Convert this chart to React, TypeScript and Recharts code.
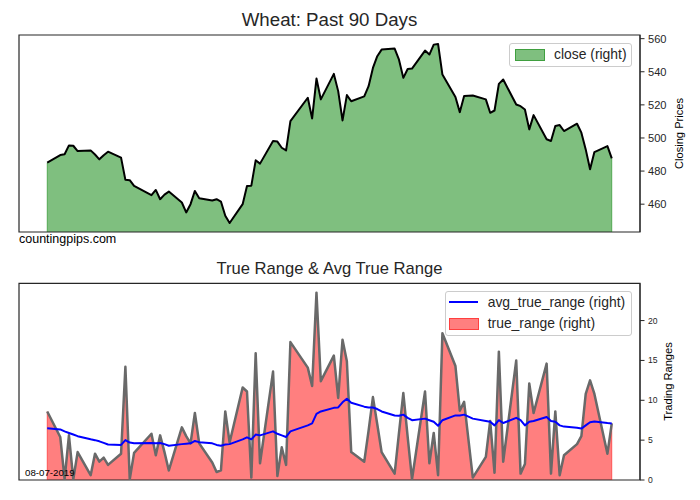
import React from "react";
import { Area, ComposedChart, Legend, Line, ReferenceArea, ReferenceLine, XAxis, YAxis } from "recharts";

const YEAR = 2019;
const DATES = [
  "03-29",
  "04-01", "04-02", "04-03", "04-04", "04-05", "04-08", "04-09", "04-10", "04-11", "04-12",
  "04-15", "04-16", "04-17", "04-18", "04-22", "04-23", "04-24", "04-25", "04-26", "04-29", "04-30",
  "05-01", "05-02", "05-03", "05-06", "05-07", "05-08", "05-09", "05-10", "05-13", "05-14", "05-15",
  "05-16", "05-17", "05-20", "05-21", "05-22", "05-23", "05-24", "05-28", "05-29", "05-30", "05-31",
  "06-03", "06-04", "06-05", "06-06", "06-07", "06-10", "06-11", "06-12", "06-13", "06-14",
  "06-17", "06-18", "06-19", "06-20", "06-21", "06-24", "06-25", "06-26", "06-27", "06-28",
  "07-01", "07-02", "07-03", "07-05", "07-08", "07-09", "07-10", "07-11", "07-12", "07-15", "07-16",
  "07-17", "07-18", "07-19", "07-22", "07-23", "07-24", "07-25", "07-26", "07-29", "07-30", "07-31",
  "08-01", "08-02", "08-05", "08-06",
];

const CLOSE = [
  485.1,
  489.7, 490.2, 495.5, 495.3, 492.1, 492.5, 490.0, 487.1, 489.6, 491.7,
  488.1, 474.7, 474.5, 471.0, 465.4, 468.6, 463.0, 465.8, 467.6, 461.0, 455.0,
  460.0, 468.0, 463.6, 462.2, 463.0, 461.6, 453.0, 448.6, 460.0, 471.0, 471.2,
  486.5, 484.5, 498.2, 497.8, 494.1, 492.5, 510.2, 524.3, 511.8, 535.9, 523.3,
  538.7, 528.3, 510.6, 525.9, 522.2, 525.1, 531.3, 542.3, 549.4, 553.4,
  554.0, 547.3, 536.3, 541.7, 541.9, 552.8, 550.4, 556.4, 556.8, 538.3,
  524.7, 515.6, 525.3, 525.7, 523.3, 515.2, 516.6, 532.7, 535.3, 520.2, 519.2,
  517.2, 505.2, 513.8, 499.2, 498.2, 507.2, 507.8, 504.2, 508.6, 503.2, 493.1,
  481.1, 491.5, 495.1, 487.7,
];

const TRUE_RANGE = [
  8.6,
  5.4, 0.1, 5.6, 0.1, 3.5, 0.6, 3.3, 2.3, 2.8, 1.9,
  3.3, 14.2, 0.1, 3.4, 5.8, 3.1, 5.6, 3.5, 1.2, 6.6, 5.5,
  4.6, 8.4, 4.6, 2.2, 1.0, 1.2, 8.6, 4.7, 11.6, 11.1, 0.3,
  15.9, 2.1, 13.6, 0.5, 4.1, 1.9, 17.3, 14.1, 11.8, 23.5, 12.4,
  15.6, 10.3, 17.6, 14.9, 3.5, 2.3, 6.2, 10.4, 7.0, 3.5,
  0.8, 5.9, 10.9, 5.4, 0.1, 11.1, 2.1, 5.9, 0.6, 18.4,
  14.3, 8.7, 9.8, 0.3, 2.9, 7.4, 0.9, 16.1, 2.3, 15.0, 0.8,
  2.0, 12.1, 8.4, 14.6, 0.8, 8.6, 0.6, 3.1, 4.5, 5.5, 10.8,
  12.5, 10.8, 3.3, 7.1,
];

const AVG_TRUE_RANGE = [
  6.5,
  6.35, 6.1, 5.9, 5.7, 5.5, 5.1, 5.0, 4.85, 4.65, 4.45,
  4.4, 5.0, 4.7, 4.6, 4.65, 4.6, 4.65, 4.5, 4.3, 4.5, 4.55,
  4.6, 4.9, 4.75, 4.6, 4.4, 4.3, 4.45, 4.5, 5.1, 5.35, 5.1,
  5.7, 5.6, 6.1, 5.8, 5.6, 5.4, 6.1, 6.85, 7.1, 8.3, 8.6,
  9.05, 9.1, 9.75, 10.2, 9.7, 9.2, 9.1, 9.1, 8.9, 8.6,
  8.1, 8.05, 8.2, 7.8, 7.5, 7.7, 7.5, 7.3, 6.8, 7.5,
  8.1, 8.1, 8.2, 7.7, 7.4, 7.3, 6.85, 7.5, 7.15, 7.8, 7.5,
  6.85, 7.3, 7.4, 7.9, 7.4, 7.3, 6.85, 6.7, 6.55, 6.45, 6.85,
  7.25, 7.35, 7.15, 7.1,
];

const PRICE_TICKS = [460, 480, 500, 520, 540, 560];
const RANGE_TICKS = [0, 5, 10, 15, 20];

const FONT = '"Liberation Sans", Arial, sans-serif';
const INK = "#262626";
const GREEN = "#008000";
const RED = "#ff0000";

const start = Date.UTC(YEAR, 2, 29);
const toDay = (d: string) => {
  const [m, dd] = d.split("-").map(Number);
  return Math.round((Date.UTC(YEAR, m - 1, dd) - start) / 86400000);
};

const rows = DATES.map((d, i) => ({
  day: toDay(d),
  close: CLOSE[i],
  true_range: TRUE_RANGE[i],
  avg_true_range: AVG_TRUE_RANGE[i],
}));

const firstDay = rows[0].day;
const lastDay = rows[rows.length - 1].day;
const xPad = (lastDay - firstDay) * 0.05;
const X_DOMAIN: [number, number] = [firstDay - xPad, lastDay + xPad];

const cMin = Math.min(...CLOSE);
const cMax = Math.max(...CLOSE);
const P_DOMAIN: [number, number] = [cMin - (cMax - cMin) * 0.05, cMax + (cMax - cMin) * 0.05];
const R_DOMAIN: [number, number] = [0, Math.max(...TRUE_RANGE) * 1.05];

function PriceLegend() {
  return (
    <div
      style={{
        position: "relative",
        width: 123,
        height: 24,
        boxSizing: "border-box",
        border: "1px solid #cccccc",
        borderRadius: 3,
        background: "rgba(255,255,255,0.8)",
        fontFamily: FONT,
        fontSize: 13.9,
        color: INK,
      }}
    >
      <div
        style={{
          position: "absolute",
          left: 5,
          top: 5,
          width: 28,
          height: 10,
          background: "rgba(0,128,0,0.5)",
          border: "1px solid rgba(0,128,0,0.5)",
        }}
      />
      <div style={{ position: "absolute", left: 44, top: 3, lineHeight: "14px", whiteSpace: "nowrap" }}>
        close (right)
      </div>
    </div>
  );
}

function RangeLegend() {
  return (
    <div
      style={{
        position: "relative",
        width: 187,
        height: 45,
        boxSizing: "border-box",
        border: "1px solid #cccccc",
        borderRadius: 3,
        background: "rgba(255,255,255,0.8)",
        fontFamily: FONT,
        fontSize: 13.9,
        color: INK,
      }}
    >
      <div style={{ position: "absolute", left: 3, top: 9, width: 29, height: 2, background: "#0000ff" }} />
      <div style={{ position: "absolute", left: 41.7, top: 3, lineHeight: "14px", whiteSpace: "nowrap" }}>
        avg_true_range (right)
      </div>
      <div
        style={{
          position: "absolute",
          left: 3,
          top: 26.3,
          width: 28,
          height: 10,
          background: "rgba(255,0,0,0.5)",
          border: "1px solid rgba(255,0,0,0.5)",
        }}
      />
      <div style={{ position: "absolute", left: 41.7, top: 24.3, lineHeight: "14px", whiteSpace: "nowrap" }}>
        true_range (right)
      </div>
    </div>
  );
}

function Text({ left, top, size, children, center }: any) {
  return (
    <div
      style={{
        position: "absolute",
        left,
        top,
        width: center ? 621 : undefined,
        textAlign: center ? "center" : "left",
        fontFamily: FONT,
        fontSize: size,
        lineHeight: `${size}px`,
        color: center ? INK : "#000",
        whiteSpace: "nowrap",
      }}
    >
      {children}
    </div>
  );
}

function VLabel({ cx, cy, children }: any) {
  return (
    <div
      style={{
        position: "absolute",
        left: cx - 100,
        top: cy - 5.5,
        width: 200,
        textAlign: "center",
        fontFamily: FONT,
        fontSize: 11.1,
        lineHeight: "11px",
        color: "#000",
        transform: "rotate(-90deg)",
        transformOrigin: "center",
      }}
    >
      {children}
    </div>
  );
}

export default function App() {
  const tickStyle = (size: number) => ({ fontSize: size, fill: INK, fontFamily: FONT });
  const first = rows[0];
  const last = rows[rows.length - 1];

  return (
    <div style={{ position: "absolute", left: 0, top: 0, width: 700, height: 500, overflow: "hidden", background: "#fff" }}>
      <Text left={19} top={10.8} size={18.7} center>
        Wheat: Past 90 Days
      </Text>
      <div style={{ position: "absolute", left: 0, top: 0 }}>
        <ComposedChart width={700} height={250} data={rows} margin={{ top: 35, right: 0, bottom: 18, left: 19 }}>
          <XAxis xAxisId="b" dataKey="day" type="number" domain={X_DOMAIN} allowDataOverflow tick={false} tickLine={false} axisLine={false} height={0} />
          <YAxis
            yAxisId="r"
            orientation="right"
            type="number"
            domain={P_DOMAIN}
            allowDataOverflow
            ticks={PRICE_TICKS}
            tick={tickStyle(11.1)}
            tickSize={4.5}
            tickMargin={3.5}
            tickLine={{ stroke: INK }}
            axisLine={{ stroke: INK }}
            width={60}
          />
          <Area xAxisId="b" yAxisId="r" type="linear" dataKey="close" fill={GREEN} fillOpacity={0.5} stroke="none" isAnimationActive={false} />
          <ReferenceLine xAxisId="b" yAxisId="r" segment={[{ x: first.day, y: P_DOMAIN[0] }, { x: first.day, y: first.close }]} stroke={GREEN} strokeOpacity={0.5} />
          <ReferenceLine xAxisId="b" yAxisId="r" segment={[{ x: last.day, y: P_DOMAIN[0] }, { x: last.day, y: last.close }]} stroke={GREEN} strokeOpacity={0.5} />
          <Line xAxisId="b" yAxisId="r" type="linear" dataKey="close" stroke="#000" strokeWidth={2} strokeLinejoin="round" dot={false} isAnimationActive={false} />
          <ReferenceArea
            xAxisId="b"
            yAxisId="r"
            x1={X_DOMAIN[0]}
            x2={X_DOMAIN[1]}
            y1={P_DOMAIN[0]}
            y2={P_DOMAIN[1]}
            fill="none"
            fillOpacity={0}
            stroke={INK}
            strokeWidth={1.2}
            strokeOpacity={1}
            ifOverflow="visible"
          />
          <Legend
            layout="horizontal"
            verticalAlign="middle"
            align="center"
            content={() => <PriceLegend />}
            wrapperStyle={{ position: "absolute", left: 509, top: 43, width: 123, height: 24 }}
          />
        </ComposedChart>
      </div>
      <VLabel cx={678.5} cy={133.8}>Closing Prices</VLabel>
      <Text left={19} top={232.9} size={12.5}>
        countingpips.com
      </Text>

      <Text left={19} top={260.9} size={16.6} center>
        True Range &amp; Avg True Range
      </Text>
      <div style={{ position: "absolute", left: 0, top: 250 }}>
        <ComposedChart width={700} height={250} data={rows} margin={{ top: 33.3, right: 0, bottom: 20, left: 19 }}>
          <XAxis xAxisId="b" dataKey="day" type="number" domain={X_DOMAIN} allowDataOverflow tick={false} tickLine={false} axisLine={false} height={0} />
          <YAxis
            yAxisId="r"
            orientation="right"
            type="number"
            domain={R_DOMAIN}
            allowDataOverflow
            ticks={RANGE_TICKS}
            tick={tickStyle(8.6)}
            tickSize={4.5}
            tickMargin={3.5}
            tickLine={{ stroke: INK }}
            axisLine={{ stroke: INK }}
            width={60}
          />
          <Area xAxisId="b" yAxisId="r" type="linear" dataKey="true_range" fill={RED} fillOpacity={0.5} stroke="none" isAnimationActive={false} />
          <ReferenceLine xAxisId="b" yAxisId="r" segment={[{ x: first.day, y: 0 }, { x: first.day, y: first.true_range }]} stroke={RED} strokeOpacity={0.5} />
          <ReferenceLine xAxisId="b" yAxisId="r" segment={[{ x: last.day, y: 0 }, { x: last.day, y: last.true_range }]} stroke={RED} strokeOpacity={0.5} />
          <Line xAxisId="b" yAxisId="r" type="linear" dataKey="true_range" stroke="#696969" strokeWidth={2.5} strokeLinejoin="round" dot={false} isAnimationActive={false} />
          <Line xAxisId="b" yAxisId="r" type="linear" dataKey="avg_true_range" stroke="#0000ff" strokeWidth={2} strokeLinejoin="round" dot={false} isAnimationActive={false} />
          <ReferenceArea
            xAxisId="b"
            yAxisId="r"
            x1={X_DOMAIN[0]}
            x2={X_DOMAIN[1]}
            y1={R_DOMAIN[0]}
            y2={R_DOMAIN[1]}
            fill="none"
            fillOpacity={0}
            stroke={INK}
            strokeWidth={1.2}
            strokeOpacity={1}
            ifOverflow="visible"
          />
          <Legend
            layout="horizontal"
            verticalAlign="middle"
            align="center"
            content={() => <RangeLegend />}
            wrapperStyle={{ position: "absolute", left: 445, top: 40.7, width: 187, height: 45 }}
          />
        </ComposedChart>
      </div>
      <VLabel cx={668.3} cy={381.8}>Trading Ranges</VLabel>
      <Text left={25} top={467.8} size={9.7}>
        08-07-2019
      </Text>
    </div>
  );
}
